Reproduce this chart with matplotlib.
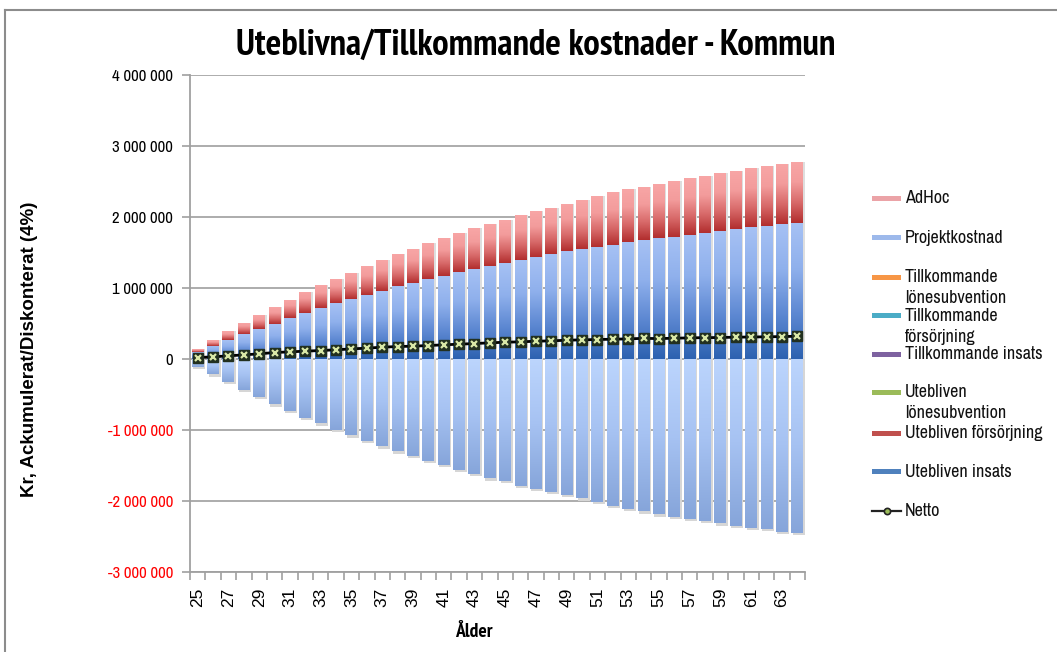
import numpy as np
import matplotlib
matplotlib.use('Agg')
import matplotlib.pyplot as plt
from matplotlib import font_manager as fm
from matplotlib.colors import LinearSegmentedColormap
from matplotlib.patches import Rectangle
from matplotlib.lines import Line2D
from matplotlib.ticker import FixedLocator, FuncFormatter

# ---------------- data (kr, millions) ----------------
ages = list(range(25, 65))
utebliven_insats = [0.103, 0.187, 0.267, 0.347, 0.420, 0.492, 0.572, 0.642, 0.713, 0.783,
                    0.840, 0.905, 0.956, 1.022, 1.073, 1.130, 1.167, 1.219, 1.261, 1.312,
                    1.350, 1.392, 1.435, 1.472, 1.514, 1.542, 1.579, 1.603, 1.646, 1.669,
                    1.697, 1.720, 1.748, 1.777, 1.800, 1.828, 1.852, 1.866, 1.894, 1.908]
utebliven_forsorjning = [0.033, 0.080, 0.123, 0.159, 0.194, 0.235, 0.262, 0.300, 0.323, 0.342,
                         0.374, 0.403, 0.432, 0.459, 0.474, 0.497, 0.539, 0.553, 0.577, 0.591,
                         0.605, 0.633, 0.642, 0.656, 0.666, 0.690, 0.709, 0.738, 0.740, 0.750,
                         0.764, 0.779, 0.793, 0.801, 0.816, 0.816, 0.830, 0.844, 0.853, 0.867]
projektkostnad = [-0.110, -0.220, -0.328, -0.436, -0.539, -0.642, -0.736, -0.830, -0.910, -0.998,
                  -1.078, -1.153, -1.233, -1.303, -1.368, -1.434, -1.495, -1.565, -1.617, -1.683,
                  -1.721, -1.786, -1.829, -1.875, -1.918, -1.965, -2.016, -2.067, -2.110, -2.147,
                  -2.190, -2.222, -2.255, -2.283, -2.316, -2.349, -2.377, -2.396, -2.438, -2.452]
netto = [0.018, 0.028, 0.042, 0.056, 0.070, 0.089, 0.098, 0.108, 0.117, 0.127,
         0.140, 0.150, 0.164, 0.173, 0.178, 0.187, 0.197, 0.206, 0.215, 0.225,
         0.234, 0.239, 0.248, 0.253, 0.262, 0.267, 0.272, 0.276, 0.281, 0.288,
         0.285, 0.290, 0.295, 0.298, 0.300, 0.305, 0.307, 0.310, 0.313, 0.318]
y_ticks = [-3e6, -2e6, -1e6, 0, 1e6, 2e6, 3e6, 4e6]
legend_labels = [["AdHoc"], ["Projektkostnad"], ["Tillkommande", "lönesubvention"],
                 ["Tillkommande", "försörjning"], ["Tillkommande insats"],
                 ["Utebliven", "lönesubvention"], ["Utebliven försörjning"],
                 ["Utebliven insats"], ["Netto"]]
legend_colors = ["#EBA3A7", "#9DB9EB", "#F79646", "#4BACC6", "#7E62A0",
                 "#9BBB59", "#C0504D", "#4F81BD", None]

M = 1e6
x = np.array(ages, dtype=float)
ins = np.array(utebliven_insats) * M
fors = np.array(utebliven_forsorjning) * M
proj = np.array(projektkostnad) * M
net = np.array(netto) * M

# ---------------- fonts ----------------
weights = {}
for f in fm.fontManager.ttflist:
    try:
        w = int(f.weight)
    except Exception:
        w = 700 if 'bold' in str(f.weight).lower() else 400
    weights.setdefault(f.name, set()).add(w)
narrow_cands = ['Arial Narrow', 'Liberation Sans Narrow', 'Archivo Narrow', 'PT Sans Narrow',
                'Roboto Condensed', 'IBM Plex Sans Condensed', 'Open Sans Condensed']
NAR = next((n for n in narrow_cands if n in weights and min(weights[n]) <= 400), None)
NARB = next((n for n in narrow_cands if n in weights and max(weights[n]) >= 700), None)
reg_cands = ['Arial', 'Arimo', 'Liberation Sans']
REGF = next((n for n in reg_cands if n in weights), 'DejaVu Sans')
REGB = next((n for n in reg_cands if n in weights and max(weights[n]) >= 700), 'DejaVu Sans')
REG = [REGF, 'DejaVu Sans']
NARROW = [NAR, REGF, 'DejaVu Sans'] if NAR else REG
NARROWB = [NARB, REGB, 'DejaVu Sans'] if NARB else [REGB, 'DejaVu Sans']
plt.rcParams['font.family'] = NARROW
k = 1.0 if NAR else 0.86
kb = 1.0 if NARB else 0.84

W, H = 1057, 652
fig = plt.figure(figsize=(W / 100, H / 100), dpi=100)
fig.patch.set_facecolor('white')

def fx(px):
    return px / W

def fy(py):
    return 1 - py / H

ax = fig.add_axes([fx(190), fy(572), fx(805) - fx(190), fy(74.6) - fy(572)])

BW = 0.78
# shadows
ax.bar(x + 0.10, proj - 0.03 * M, width=BW, color='#D6D6D6', zorder=1, linewidth=0)
ax.bar(x + 0.10, ins + fors, width=BW, color='#DEDEDE', zorder=1, linewidth=0)

# bars
b_proj = ax.bar(x, proj, width=BW, color='#9DB9EB', zorder=2, linewidth=0)
b_ins = ax.bar(x, ins, width=BW, color='#4F81BD', zorder=2, linewidth=0)
b_fors = ax.bar(x, fors, bottom=ins, width=BW, color='#C0504D', zorder=2, linewidth=0)

cm_proj = LinearSegmentedColormap.from_list('p', ['#86A5DA', '#A6C2F2', '#BCD5FD'])
cm_ins = LinearSegmentedColormap.from_list('i', ['#2D62B0', '#5D88D2', '#8FB0EC', '#A6C1F4'])
cm_fors = LinearSegmentedColormap.from_list('f', ['#B22E2E', '#D86A6A', '#F39C9C', '#F8A6A6'])
grad = np.linspace(0, 1, 128).reshape(-1, 1)

def apply_gradient(container, cmap):
    for p in container.patches:
        x0, y0 = p.get_x(), p.get_y()
        w, h = p.get_width(), p.get_height()
        ylo, yhi = min(y0, y0 + h), max(y0, y0 + h)
        if yhi - ylo <= 0:
            continue
        im = ax.imshow(grad, extent=[x0, x0 + w, ylo, yhi], origin='lower',
                       aspect='auto', cmap=cmap, zorder=2.5, interpolation='bilinear')
        im.set_clip_path(p)

apply_gradient(b_proj, cm_proj)
apply_gradient(b_ins, cm_ins)
apply_gradient(b_fors, cm_fors)

# netto line
ax.plot(x, net, color='black', lw=2.0, zorder=5)
ax.plot(x, net, 's', ms=7, mfc='#22301F', mec='#22301F', zorder=6)
ax.plot(x, net, 'x', ms=4.2, mew=1.6, color='#D9E8A6', zorder=7)

# axes
ax.set_xlim(24.5, 64.5)
ax.set_ylim(-3e6, 4e6)
ax.set_yticks(y_ticks)
ax.yaxis.set_major_formatter(FuncFormatter(lambda v, p: f"{int(round(v)):,}".replace(',', ' ')))
ax.yaxis.grid(True, color='#A6A6A6', lw=1.3, zorder=0)
ax.set_axisbelow(True)
for s in ['top', 'right']:
    ax.spines[s].set_visible(False)
for s in ['left', 'bottom']:
    ax.spines[s].set_color('#A0A0A0')
    ax.spines[s].set_linewidth(1.3)
ax.tick_params(axis='y', length=6, width=1.2, color='#A0A0A0', pad=6, labelsize=12 * k)
for lab, v in zip(ax.get_yticklabels(), y_ticks):
    lab.set_color('#FF0000' if v < 0 else 'black')

ax.xaxis.set_major_locator(FixedLocator(np.arange(24.5, 65, 1)))
ax.xaxis.set_major_formatter(FuncFormatter(lambda v, p: ''))
ax.xaxis.set_minor_locator(FixedLocator([a for a in ages if a % 2 == 1]))
ax.xaxis.set_minor_formatter(FuncFormatter(lambda v, p: f"{int(round(v))}"))
ax.tick_params(axis='x', which='major', length=6, width=1.2, color='#A0A0A0')
ax.tick_params(axis='x', which='minor', length=0, pad=11, labelsize=12.5,
               labelrotation=90)
for lab in ax.get_xticklabels(minor=True):
    lab.set_fontfamily(REG)

# titles
fig.text(fx(536), fy(45), "Uteblivna/Tillkommande kostnader - Kommun", ha='center', va='center',
         fontsize=26.5 * kb, fontweight='bold', family=NARROWB)
fig.text(fx(30), fy(349), "Kr, Ackumulerat/Diskonterat (4%)", rotation=90, ha='center', va='center',
         fontsize=13.5, fontweight='bold', family=[REGB, 'DejaVu Sans'])
fig.text(fx(474), fy(632), "Ålder", ha='center', va='center', fontsize=14 * kb, fontweight='bold',
         family=NARROWB)

# legend (manual)
leg_y = [[198.3], [237.7], [277.3, 298.3], [315.7, 336.7], [354.0],
         [392.3, 413.0], [433.3], [471.7], [510.7]]
for lines, col, ys in zip(legend_labels, legend_colors, leg_y):
    y0 = ys[0]
    if col is not None:
        fig.add_artist(Rectangle((fx(872), fy(y0 + 2.5)), fx(901) - fx(872), fy(y0 - 2.5) - fy(y0 + 2.5),
                                 transform=fig.transFigure, fc=col, ec='none'))
    else:
        fig.add_artist(Line2D([fx(872), fx(901)], [fy(y0), fy(y0)], transform=fig.transFigure,
                              color='#222222', lw=1.6))
        fig.add_artist(Line2D([fx(886.5)], [fy(y0)], transform=fig.transFigure, marker='o', ms=4.5,
                              mfc='#9BBB59', mec='#222222', mew=1.2))
    for t, yy in zip(lines, ys):
        fig.text(fx(905), fy(yy), t, ha='left', va='center', fontsize=13 * k, color='#111111')

# chart border
fig.add_artist(Line2D([fx(5), fx(1057)], [fy(10), fy(10)], transform=fig.transFigure, color='#8C8C8C', lw=1.5))
fig.add_artist(Line2D([fx(5), fx(5)], [fy(10), fy(652)], transform=fig.transFigure, color='#8C8C8C', lw=1.5))

fig.savefig('out.png', dpi=100)
